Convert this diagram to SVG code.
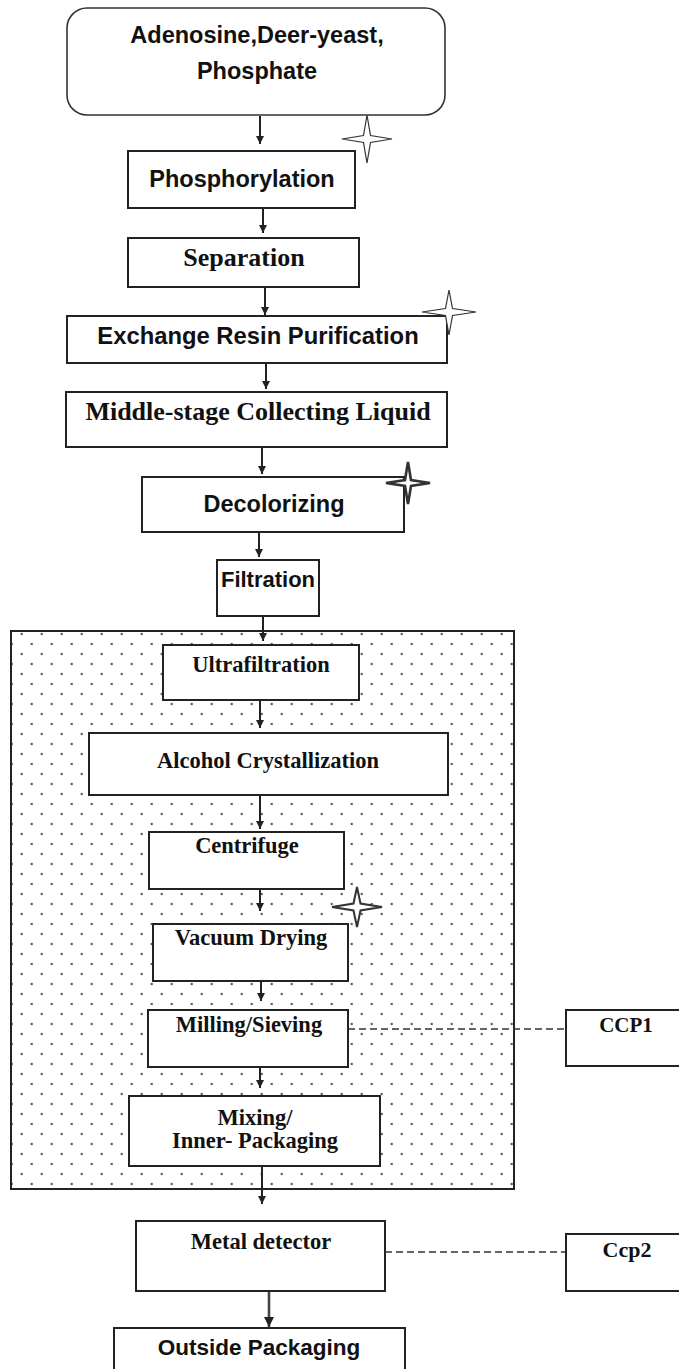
<svg xmlns="http://www.w3.org/2000/svg" width="679" height="1369" viewBox="0 0 679 1369">
<defs>
<pattern id="dots" patternUnits="userSpaceOnUse" x="16.7" y="639" width="20" height="20">
<circle cx="15" cy="5" r="1.2" fill="#555"/>
<circle cx="5" cy="15" r="1.2" fill="#555"/>
</pattern>
<marker id="ah" viewBox="0 0 10 10" refX="10" refY="5" markerWidth="4" markerHeight="4" orient="auto" markerUnits="strokeWidth">
<path d="M0,0 L10,5 L0,10 Z" fill="#222"/>
</marker>
</defs>
<style>
.box{fill:#fff;stroke:#222;stroke-width:2}
.ar{fill:#111;font-family:"Liberation Sans",Arial,sans-serif;font-weight:bold;text-anchor:middle}
.tm{fill:#111;font-family:"Liberation Serif","Times New Roman",serif;font-weight:bold;text-anchor:middle}
.conn{stroke:#222;stroke-width:2;fill:none;marker-end:url(#ah)}
.dash{stroke:#333;stroke-width:1.6;fill:none;stroke-dasharray:7,4}
.star{fill:#fff;stroke:#333;stroke-linejoin:miter}
</style>

<g id="zone">
<rect x="11" y="631" width="503" height="558" fill="#fff"/>
<rect x="11" y="631" width="503" height="558" fill="url(#dots)" stroke="#222" stroke-width="2"/>
</g>

<g id="connectors">
<line class="conn" x1="260" y1="116" x2="260" y2="144"/>
<line class="conn" x1="263" y1="208" x2="263" y2="233"/>
<line class="conn" x1="265" y1="287" x2="265" y2="315"/>
<line class="conn" x1="266" y1="363" x2="266" y2="389"/>
<line class="conn" x1="262" y1="447" x2="262" y2="474"/>
<line class="conn" x1="259" y1="532" x2="259" y2="557"/>
<line class="conn" x1="263" y1="616" x2="263" y2="641"/>
<line class="conn" x1="260" y1="700" x2="260" y2="728"/>
<line class="conn" x1="260" y1="795" x2="260" y2="829"/>
<line class="conn" x1="260" y1="889" x2="260" y2="911"/>
<line class="conn" x1="261" y1="981" x2="261" y2="1001"/>
<line class="conn" x1="260" y1="1067" x2="260" y2="1088"/>
<line class="conn" x1="262" y1="1166" x2="262" y2="1204"/>
<line class="conn" x1="269" y1="1291" x2="269" y2="1327" style="stroke-width:2.6;stroke:#444"/>
<line class="dash" x1="348" y1="1029" x2="566" y2="1029"/>
<line class="dash" x1="385" y1="1252" x2="566" y2="1252"/>
</g>

<g id="n-raw">
<rect x="67" y="8" width="378" height="107" rx="20" ry="20" fill="#fff" stroke="#333" stroke-width="1.6"/>
<text class="ar" x="257" y="43" font-size="23.5">Adenosine,Deer-yeast,</text>
<text class="ar" x="257" y="79" font-size="23.5">Phosphate</text>
</g>
<g id="n-phos">
<rect class="box" x="128" y="151" width="227" height="57"/>
<text class="ar" x="242" y="187" font-size="23.5">Phosphorylation</text>
</g>
<g id="n-sep">
<rect class="box" x="128" y="238" width="231" height="49"/>
<text class="tm" x="244" y="266" font-size="26">Separation</text>
</g>
<g id="n-exch">
<rect class="box" x="67" y="316" width="380" height="47"/>
<text class="ar" x="258" y="344" font-size="23.8">Exchange Resin Purification</text>
</g>
<g id="n-mid">
<rect class="box" x="66" y="392" width="381" height="55"/>
<text class="tm" x="258" y="420" font-size="26">Middle-stage Collecting Liquid</text>
</g>
<g id="n-decol">
<rect class="box" x="142" y="477" width="262" height="55"/>
<text class="ar" x="274" y="512" font-size="23.5">Decolorizing</text>
</g>
<g id="n-filt">
<rect class="box" x="217" y="560" width="102" height="56"/>
<text class="ar" x="268" y="587" font-size="22">Filtration</text>
</g>
<g id="n-ultra">
<rect class="box" x="163" y="645" width="196" height="55"/>
<text class="tm" x="261" y="672" font-size="22.5">Ultrafiltration</text>
</g>
<g id="n-alc">
<rect class="box" x="89" y="733" width="359" height="62"/>
<text class="tm" x="268" y="768" font-size="22.5">Alcohol Crystallization</text>
</g>
<g id="n-cent">
<rect class="box" x="149" y="832" width="195" height="57"/>
<text class="tm" x="247" y="853" font-size="22.5">Centrifuge</text>
</g>
<g id="n-vac">
<rect class="box" x="153" y="924" width="195" height="57"/>
<text class="tm" x="251" y="945" font-size="22.5">Vacuum Drying</text>
</g>
<g id="n-mill">
<rect class="box" x="148" y="1010" width="200" height="57"/>
<text class="tm" x="249" y="1032" font-size="22.5">Milling/Sieving</text>
</g>
<g id="n-mix">
<rect class="box" x="129" y="1096" width="251" height="70"/>
<text class="tm" x="255" y="1125" font-size="22.5">Mixing/</text>
<text class="tm" x="255" y="1148" font-size="22.5">Inner- Packaging</text>
</g>
<g id="n-metal">
<rect class="box" x="136" y="1221" width="249" height="70"/>
<text class="tm" x="261" y="1249" font-size="22.5">Metal detector</text>
</g>
<g id="n-out">
<rect class="box" x="114" y="1328" width="291" height="60"/>
<text class="ar" x="259" y="1355" font-size="22.5">Outside Packaging</text>
</g>
<g id="n-ccp1">
<rect class="box" x="566" y="1010" width="130" height="56"/>
<text class="tm" x="626" y="1032" font-size="21">CCP1</text>
</g>
<g id="n-ccp2">
<rect class="box" x="566" y="1234" width="130" height="57"/>
<text class="tm" x="627" y="1257" font-size="22">Ccp2</text>
</g>

<g id="stars">
<path class="star" stroke-width="1.2" d="M367,115 L370.5,135.5 L392,139 L370.5,142.5 L367,163 L363.5,142.5 L342,139 L363.5,135.5 Z"/>
<path class="star" stroke-width="1.2" d="M449,290 L452.5,308.5 L476,312 L452.5,315.5 L449,335 L445.5,315.5 L422,312 L445.5,308.5 Z"/>
<path class="star" stroke-width="2.6" d="M408,462 L411,480 L430,483 L411,486 L408,504 L405,486 L386,483 L405,480 Z"/>
<path class="star" stroke-width="2" d="M357,887 L360.5,903.5 L382,907 L360.5,910.5 L357,927 L353.5,910.5 L332,907 L353.5,903.5 Z"/>
</g>
</svg>
